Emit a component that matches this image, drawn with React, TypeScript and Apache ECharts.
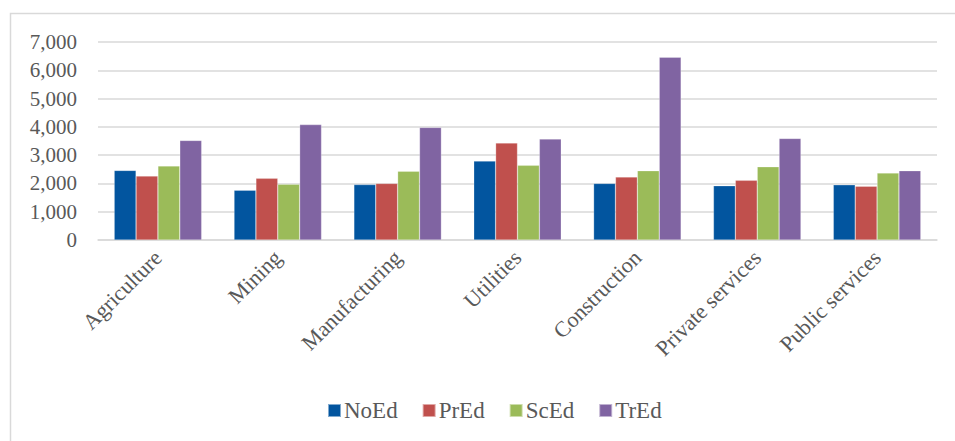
import React, { useEffect, useRef } from "react";
import * as echarts from "echarts";

const categories = ["Agriculture", "Mining", "Manufacturing", "Utilities", "Construction", "Private services", "Public services"];
const seriesNames = ["NoEd", "PrEd", "ScEd", "TrEd"];
const noEd = [2460, 1760, 1960, 2790, 2000, 1920, 1950];
const prEd = [2260, 2180, 2000, 3430, 2230, 2110, 1900];
const scEd = [2620, 1970, 2430, 2640, 2450, 2590, 2370];
const trEd = [3520, 4080, 3980, 3570, 6460, 3590, 2450];
const colors = ["#02559F", "#C0504D", "#9BBB59", "#8064A2"];

const FONT = "'Liberation Serif', 'DejaVu Serif', serif";

export default function App() {
  const ref = useRef<HTMLDivElement>(null);
  useEffect(() => {
    if (!ref.current) return;
    const chart = echarts.init(ref.current, undefined, { renderer: "svg" });
    const data = [noEd, prEd, scEd, trEd];
    chart.setOption({
      animation: false,
      backgroundColor: "#ffffff",
      graphic: [
        {
          type: "rect",
          shape: { x: 10.5, y: 13.5, width: 1000, height: 500 },
          style: { fill: "none", stroke: "#d9d9d9", lineWidth: 1.5 },
          silent: true,
        },
      ],
      grid: { left: 98, right: 18, top: 42, bottom: 201 },
      legend: {
        bottom: 14,
        left: 322,
        itemWidth: 13,
        itemHeight: 13,
        itemGap: 24,
        icon: "rect",
        textStyle: { fontFamily: FONT, fontSize: 23, color: "#595959", padding: [0, 0, 0, -2] },
        data: seriesNames,
      },
      xAxis: {
        type: "category",
        data: categories,
        axisLine: { show: true, lineStyle: { color: "#d9d9d9", width: 1.5 } },
        axisTick: { show: false },
        axisLabel: {
          rotate: 45,
          interval: 0,
          margin: 14,
          fontFamily: FONT,
          fontSize: 22,
          color: "#595959",
        },
      },
      yAxis: {
        type: "value",
        min: 0,
        max: 7000,
        interval: 1000,
        axisLine: { show: false },
        axisTick: { show: false },
        splitLine: { lineStyle: { color: "#d9d9d9", width: 1.5 } },
        axisLabel: {
          margin: 21,
          fontFamily: FONT,
          fontSize: 21,
          color: "#595959",
          formatter: (v: number) => v.toLocaleString("en-US"),
        },
      },
      series: seriesNames.map((name, i) => ({
        name,
        type: "bar",
        data: data[i],
        barGap: "0%",
        barCategoryGap: "27%",
        itemStyle: { color: colors[i], borderColor: "rgba(255,255,255,0.5)", borderWidth: 0.5 },
      })),
    });
    return () => chart.dispose();
  }, []);
  return (
    <div
      ref={ref}
      style={{ position: "fixed", left: 0, top: 0, width: 955, height: 441 }}
    />
  );
}
